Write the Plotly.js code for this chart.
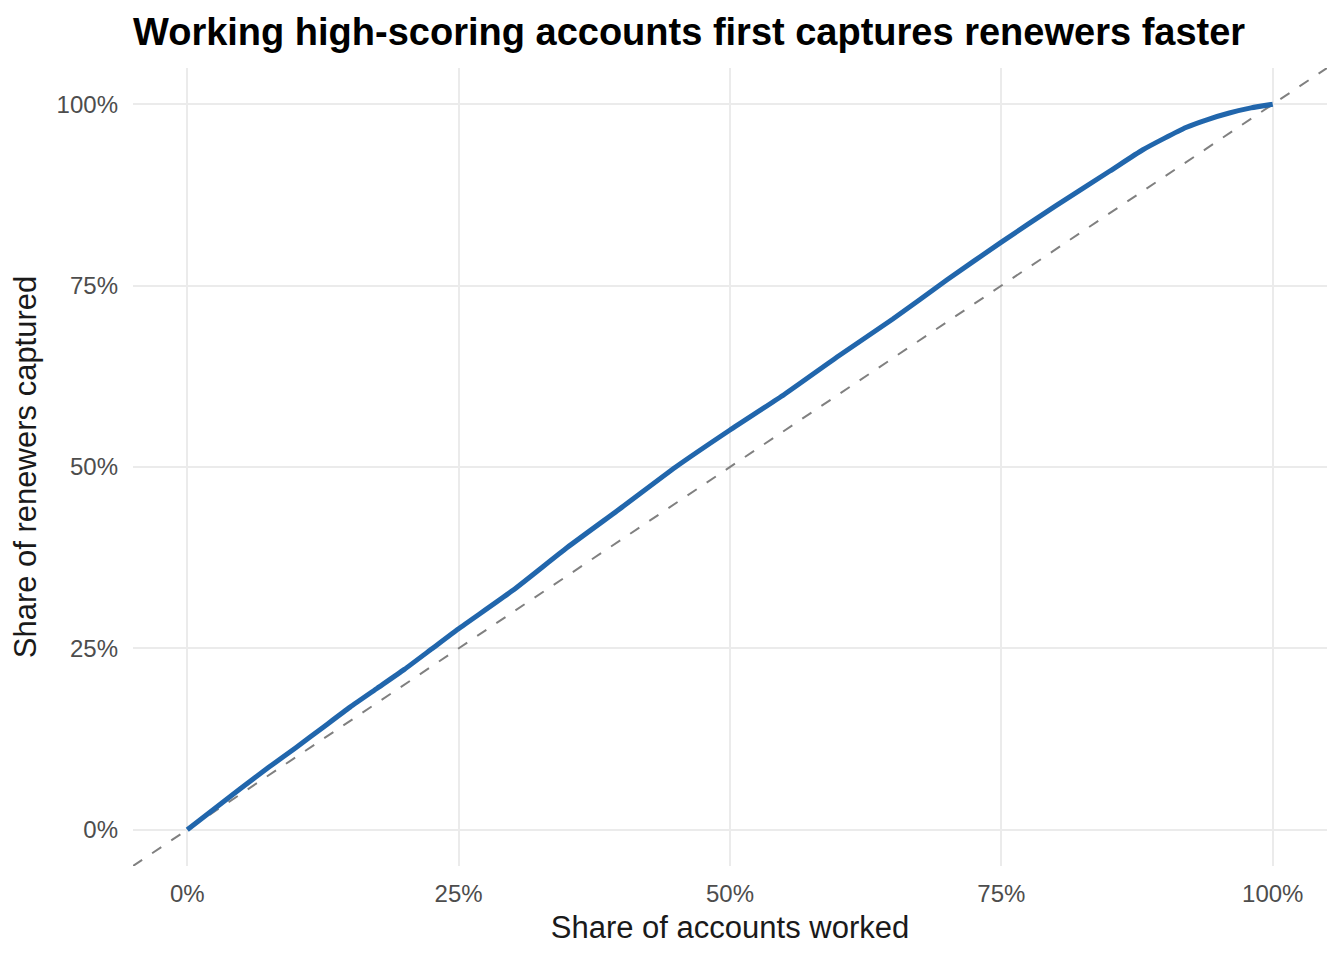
<!DOCTYPE html>
<html>
<head>
<meta charset="utf-8">
<script src="https://cdn.plot.ly/plotly-3.0.1.min.js"></script>
<style>html,body{margin:0;padding:0;background:#fff;}#chart{width:1344px;height:960px;}</style>
</head>
<body>
<div id="chart"></div>
<script>
// Share of accounts worked (%)
const accountsWorked = [0, 2.5, 5, 7.5, 10, 12.5, 15, 17.5, 20, 22.5, 25, 30, 35, 40, 45, 50, 55, 60, 65, 70, 75, 80, 85, 88, 90, 92, 94, 96, 98, 100];
// Share of renewers captured (%)
const renewersCaptured = [0, 2.9, 5.8, 8.6, 11.3, 14.1, 16.9, 19.5, 22.1, 24.9, 27.7, 33.0, 38.9, 44.4, 50.0, 55.1, 60.0, 65.3, 70.4, 75.8, 81.0, 86.0, 90.8, 93.7, 95.3, 96.8, 97.9, 98.8, 99.5, 100];
const tickVals = [0, 25, 50, 75, 100];
const tickLabels = ["0%", "25%", "50%", "75%", "100%"];
const axisRange = [-5, 105];

const curve = {
  x: accountsWorked.map(v => v / 100),
  y: renewersCaptured.map(v => v / 100),
  type: 'scatter', mode: 'lines',
  line: {color: '#2166ac', width: 5, shape: 'spline', smoothing: 0.5},
  hoverinfo: 'skip'
};
const diag = {
  x: axisRange.map(v => v / 100),
  y: axisRange.map(v => v / 100),
  type: 'scatter', mode: 'lines',
  line: {color: '#808080', width: 2, dash: '11px,12px'},
  hoverinfo: 'skip'
};

const FONT = 'Liberation Sans, Arial, sans-serif';
const axisCommon = {
  range: axisRange.map(v => v / 100),
  tickvals: tickVals.map(v => v / 100),
  ticktext: tickLabels,
  showgrid: true, gridcolor: '#ebebeb', gridwidth: 2.2,
  zeroline: false, showline: false, ticks: '',
  tickfont: {family: FONT, size: 24, color: '#4d4d4d'}
};

const layout = {
  width: 1344, height: 960,
  paper_bgcolor: '#ffffff', plot_bgcolor: '#ffffff',
  showlegend: false,
  margin: {l: 133, r: 17, t: 68, b: 94},
  title: {
    text: '<b>Working high-scoring accounts first captures renewers faster</b>',
    font: {family: FONT, size: 38, color: '#000000'},
    x: 0, xanchor: 'left', xref: 'paper', y: 0.967, yanchor: 'middle'
  },
  xaxis: Object.assign({}, axisCommon, {
    ticklabelstandoff: 11,
    title: {text: 'Share of accounts worked', font: {family: FONT, size: 31, color: '#1a1a1a'}, standoff: 10}
  }),
  yaxis: Object.assign({}, axisCommon, {
    ticklabelstandoff: 14,
    title: {text: 'Share of renewers captured', font: {family: FONT, size: 31, color: '#1a1a1a'}, standoff: 10}
  })
};

Plotly.newPlot('chart', [diag, curve], layout, {displayModeBar: false, staticPlot: true});
</script>
</body>
</html>
